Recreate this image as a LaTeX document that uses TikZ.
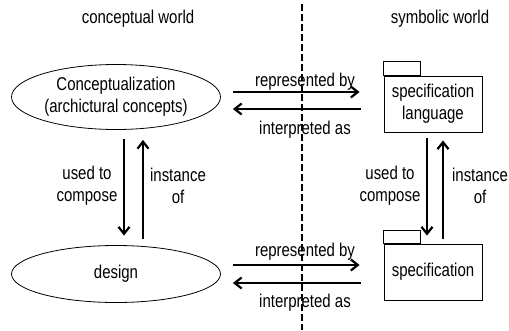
\documentclass[tikz,border=0pt]{standalone}
\usepackage{fontspec}
\setmainfont{Liberation Sans}[FakeStretch=0.81]
\usetikzlibrary{arrows.meta,shapes.geometric}

\begin{document}
\begin{tikzpicture}[x=1pt, y=-1pt,
  txt/.style={font=\fontsize{18.5}{22}\selectfont, align=center, inner sep=0pt},
  concept/.style={txt, draw, ellipse, line width=0.8pt, minimum width=209pt},
  pkg/.style={txt, draw, line width=0.8pt, minimum width=98pt, minimum height=56pt},
  rel/.style={line width=2.2pt, -{Straight Barb[length=7pt, width=11pt]}}]
  \useasboundingbox (0,0) rectangle (509,330);

  % the two worlds
  \node [txt] (cw) at (138, 19) {conceptual world};
  \node [txt] (sw) at (440, 19) {symbolic world};
  \coordinate (top) at (302, 4);
  \coordinate (bot) at (302, 330);
  \draw [line width=1.6pt, dash pattern=on 7pt off 3pt] (top) -- (bot);

  % conceptual side
  \node [concept, minimum height=65pt] (c1) at (116, 97)
    {Conceptualization\\(archictural concepts)};
  \node [concept, minimum height=57pt] (c2) at (116, 274) {design};

  % symbolic side
  \node [pkg] (p1) at (433, 104) {specification\\language};
  \draw [line width=0.8pt] (p1.north west) rectangle ++(37, -14);
  \node [pkg] (p2) at (433, 272) {specification};
  \draw [line width=0.8pt] (p2.north west) rectangle ++(37, -13);

  % represented by / interpreted as
  \draw [rel, shorten <=12pt, shorten >=24pt] ([yshift=5pt]c1.east)
    -- ([yshift=5pt]c1.east -| p1.west);
  \draw [rel, shorten <=23pt, shorten >=12pt] ([yshift=-12pt]c1.east -| p1.west)
    -- ([yshift=-12pt]c1.east);
  \node [txt] (r1) at (305, 82) {represented by};
  \node [txt] (i1) at (305, 130) {interpreted as};

  \draw [rel, shorten <=12pt, shorten >=24pt] ([yshift=9pt]c2.east)
    -- ([yshift=9pt]c2.east -| p2.west);
  \draw [rel, shorten <=23pt, shorten >=12pt] ([yshift=-9pt]c2.east -| p2.west)
    -- ([yshift=-9pt]c2.east);
  \node [txt] (r2) at (305, 252) {represented by};
  \node [txt] (i2) at (305, 303) {interpreted as};

  % used to compose / instance of
  \draw [rel, shorten <=9pt, shorten >=9.5pt] ([xshift=8pt]c1.south)
    -- ([xshift=8pt]c2.north);
  \draw [rel, shorten <=6.5pt, shorten >=10pt] ([xshift=27pt]c2.north)
    -- ([xshift=27pt]c1.south);
  \node [txt] (u1) at (87, 186) {used to\\compose};
  \node [txt] (n1) at (178, 186) {instance\\of};

  \draw [rel, shorten <=6pt, shorten >=8pt] ([xshift=-6pt]p1.south)
    -- ([xshift=-6pt]p2.north);
  \draw [rel, shorten <=5pt, shorten >=8pt] ([xshift=10pt]p2.north)
    -- ([xshift=10pt]p1.south);
  \node [txt] (u2) at (390, 186) {used to\\compose};
  \node [txt] (n2) at (480, 186) {instance\\of};
\end{tikzpicture}
\end{document}
